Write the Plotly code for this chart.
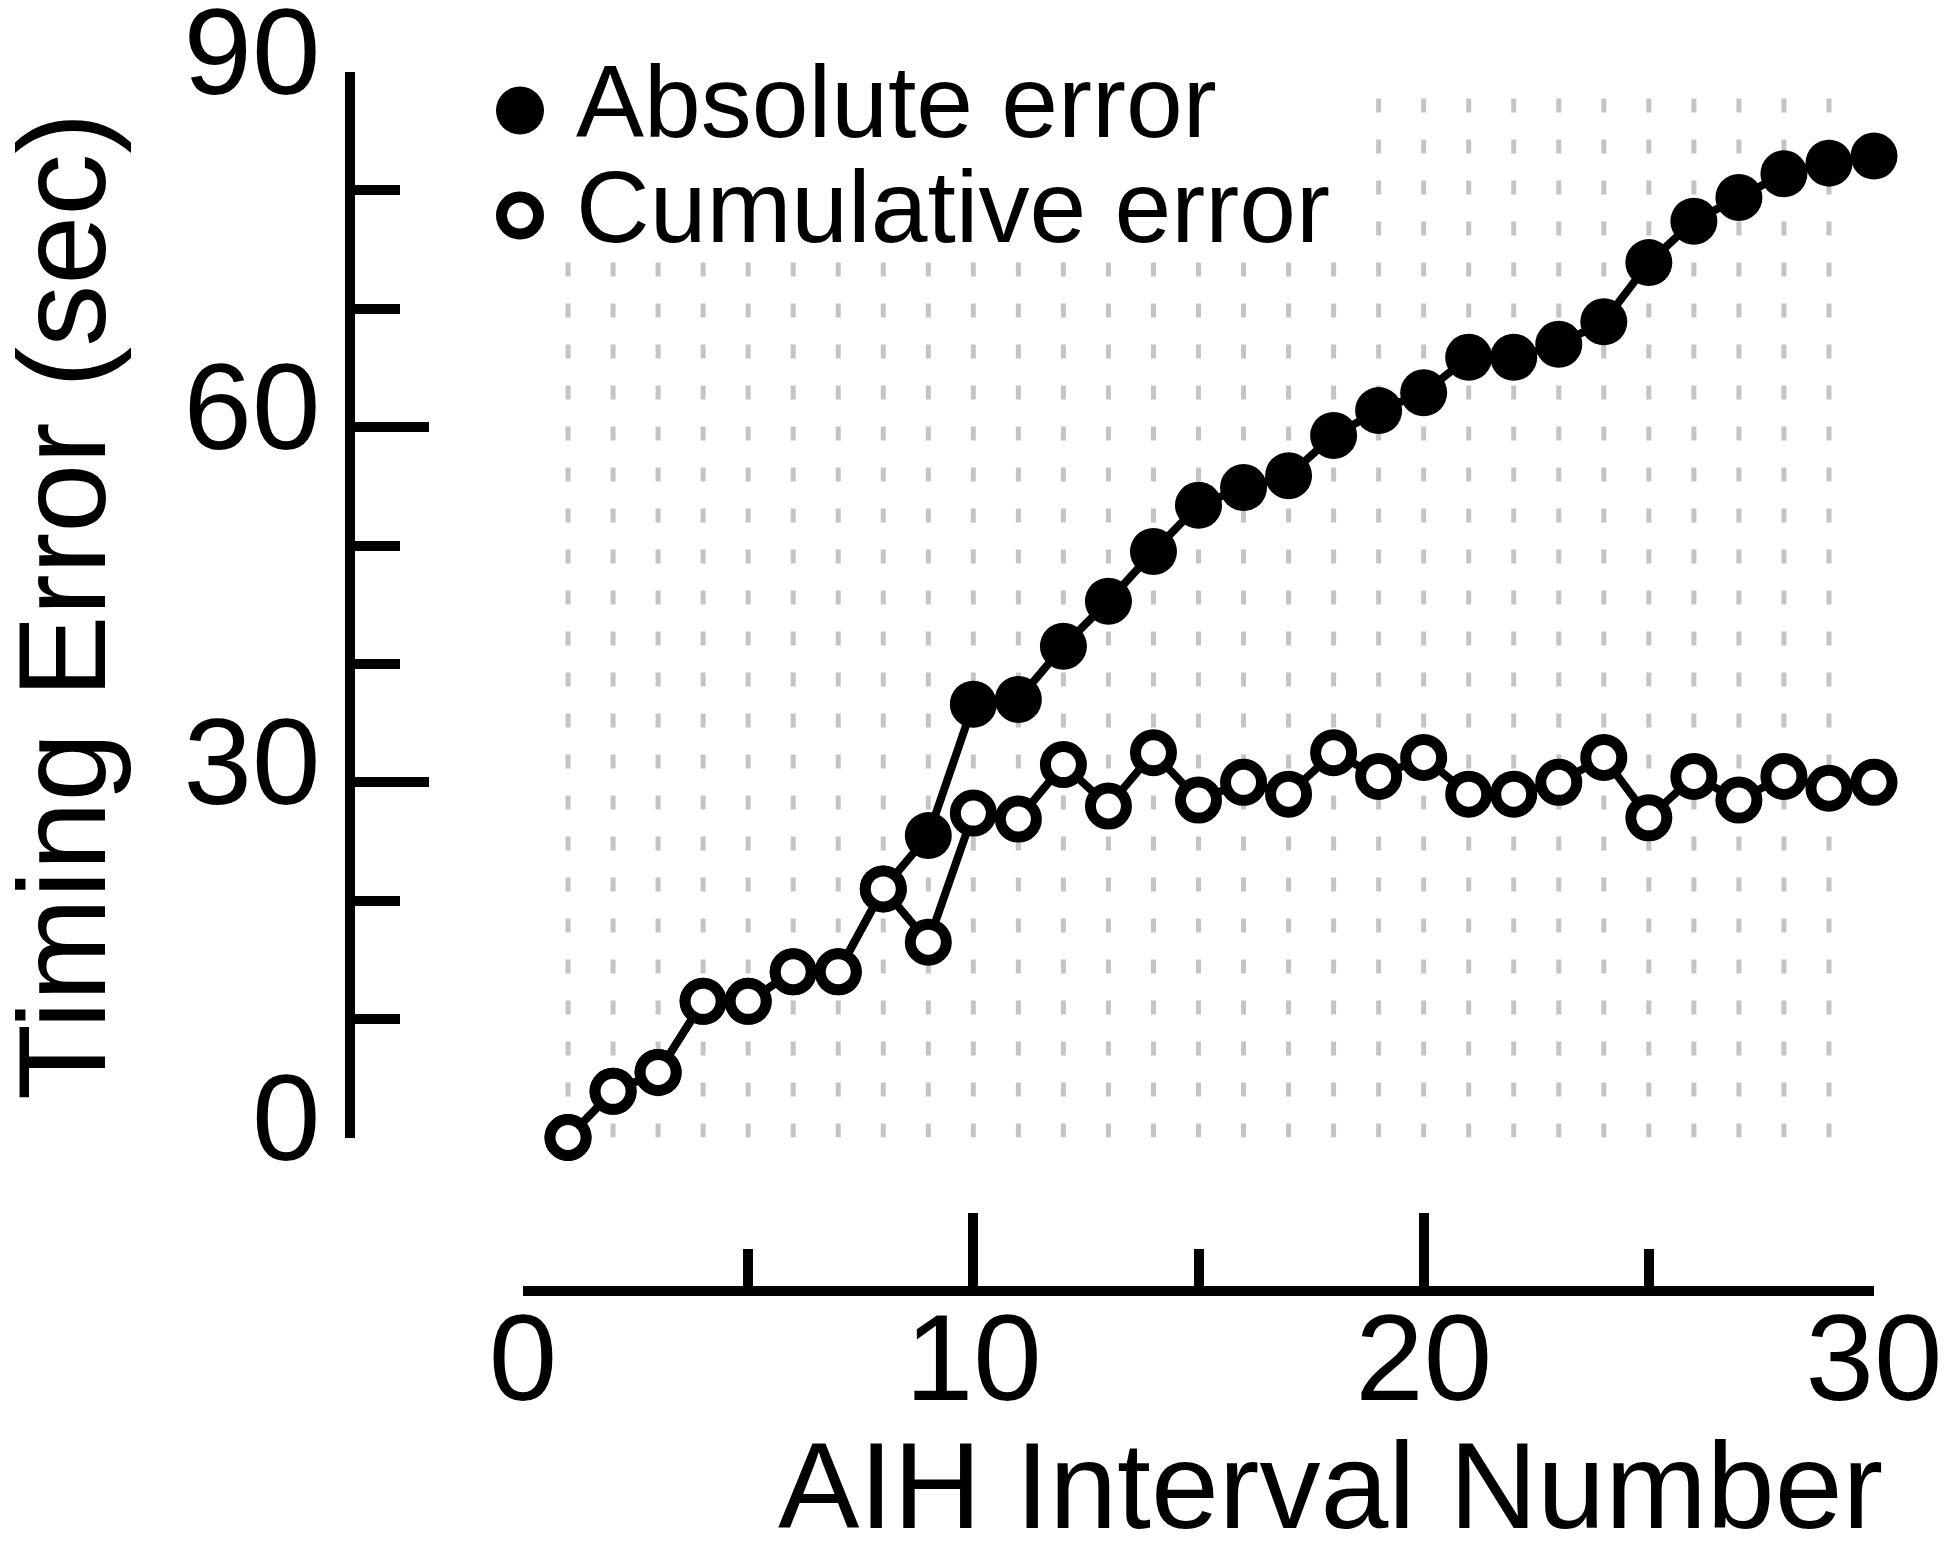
import plotly.graph_objects as go

# ---------------- data ----------------
interval = list(range(1, 31))
absolute_error = [0, 3.9, 5.5, 11.5, 11.5, 14.0, 14.0, 21.0, 25.5, 36.6,
                  37.0, 41.5, 45.3, 49.5, 53.4, 54.9, 55.9, 59.3, 61.4, 62.9,
                  65.9, 65.9, 67.0, 68.9, 73.9, 77.4, 79.4, 81.4, 82.3, 82.9]
cumulative_error = [0, 3.9, 5.5, 11.5, 11.5, 14.0, 14.0, 21.0, 16.5, 27.4,
                    26.9, 31.5, 28.0, 32.5, 28.5, 30.0, 29.0, 32.5, 30.5, 32.1,
                    29.0, 29.0, 30.0, 32.1, 27.0, 30.5, 28.5, 30.5, 29.5, 30.0]
series_names = ["Absolute error", "Cumulative error"]
x_tick_vals = [0, 10, 20, 30]
x_minor_vals = [5, 15, 25]
y_tick_vals = [0, 30, 60, 90]
y_minor_vals = [10, 20, 40, 50, 70, 80]
grid_x = list(range(1, 30))
x_title = "AIH Interval Number"
y_title = "Timing Error (sec)"

# ---------------- geometry helpers (page pixels) ----------------
OFF = 8                      # default body margin of the html page
W, H = 1950 - OFF, 1544 - 2 * OFF
L, R, T, B = 350, 1874, 72, 1291   # plot area in page pixels


def px(x):
    return (x - L) / (R - L)


def py(y):
    return (B - y) / (B - T)


FONT = "Arial, 'Liberation Sans', Helvetica, sans-serif"

fig = go.Figure()

fig.add_trace(go.Scatter(
    x=interval, y=absolute_error, name=series_names[0], mode="lines+markers",
    line=dict(color="black", width=8),
    marker=dict(symbol="circle", size=47, color="black", line=dict(width=0)),
    cliponaxis=False, showlegend=False,
))
fig.add_trace(go.Scatter(
    x=interval, y=cumulative_error, name=series_names[1], mode="lines+markers",
    line=dict(color="black", width=8),
    marker=dict(symbol="circle", size=36, color="white",
                line=dict(color="black", width=11)),
    cliponaxis=False, showlegend=False,
))

# dashed vertical grid lines
for gx in grid_x:
    fig.add_shape(type="line", xref="x", yref="y", x0=gx, x1=gx, y0=0, y1=90,
                  line=dict(color="#c4c4c4", width=5, dash="14px,27px"),
                  layer="below")
# legend background box (hides grid behind legend)
fig.add_shape(type="rect", xref="x", yref="y", x0=0, x1=18.5, y0=75, y1=92,
              fillcolor="white", line=dict(width=0), layer="below")

# manual legend
fig.add_shape(type="circle", xref="paper", yref="paper",
              xsizemode="pixel", ysizemode="pixel",
              xanchor=px(520), yanchor=py(110.5),
              x0=-24, x1=24, y0=-24, y1=24,
              fillcolor="black", line=dict(width=0), layer="above")
fig.add_shape(type="circle", xref="paper", yref="paper",
              xsizemode="pixel", ysizemode="pixel",
              xanchor=px(520), yanchor=py(215.5),
              x0=-18.5, x1=18.5, y0=-18.5, y1=18.5,
              fillcolor="white", line=dict(color="black", width=11), layer="above")
fig.add_annotation(text=series_names[0], xref="paper", yref="paper",
                   x=px(574), y=py(102), xanchor="left", yanchor="middle",
                   showarrow=False, font=dict(size=102, color="black", family=FONT))
fig.add_annotation(text=series_names[1], xref="paper", yref="paper",
                   x=px(574), y=py(207), xanchor="left", yanchor="middle",
                   showarrow=False, font=dict(size=102, color="black", family=FONT))

# axis titles
fig.add_annotation(text=x_title, xref="paper", yref="paper",
                   x=px(1885), y=py(1486), xanchor="right", yanchor="middle",
                   showarrow=False, font=dict(size=122, color="black", family=FONT))
fig.add_annotation(text=y_title, xref="paper", yref="paper",
                   x=px(62), y=py(607), xanchor="center", yanchor="middle",
                   textangle=-90, showarrow=False,
                   font=dict(size=124, color="black", family=FONT))

fig.update_layout(
    width=W, height=H,
    margin=dict(l=L - OFF, r=W - (R - OFF), t=T - OFF, b=H - (B - OFF), pad=0,
                autoexpand=False),
    paper_bgcolor="white", plot_bgcolor="white",
    font=dict(family=FONT, color="black"),
    showlegend=False,
    xaxis=dict(
        domain=[px(523), 1], range=[0, 30], anchor="free", position=0,
        automargin=False,
        showline=True, linewidth=10, linecolor="black",
        ticks="inside", ticklen=73, tickwidth=10, tickcolor="black",
        tickmode="array", tickvals=x_tick_vals,
        ticktext=[str(v) for v in x_tick_vals],
        tickfont=dict(size=123, family=FONT, color="black"),
        ticklabelstandoff=-44, ticklabeloverflow="allow",
        showgrid=False, zeroline=False,
        minor=dict(tickmode="array", tickvals=x_minor_vals, ticks="inside",
                   ticklen=37, tickwidth=10, tickcolor="black", showgrid=False),
    ),
    yaxis=dict(
        domain=[py(1137.5), 1], range=[0, 90], anchor="free", position=0,
        automargin=False,
        showline=True, linewidth=10, linecolor="black",
        ticks="inside", ticklen=74, tickwidth=10, tickcolor="black",
        tickmode="array", tickvals=y_tick_vals,
        ticktext=[str(v) for v in y_tick_vals],
        tickfont=dict(size=123, family=FONT, color="black"),
        ticklabelshift=-21, ticklabeloverflow="allow",
        showgrid=False, zeroline=False,
        minor=dict(tickmode="array", tickvals=y_minor_vals, ticks="inside",
                   ticklen=45, tickwidth=10, tickcolor="black", showgrid=False),
    ),
)

fig.write_html("out.html")
